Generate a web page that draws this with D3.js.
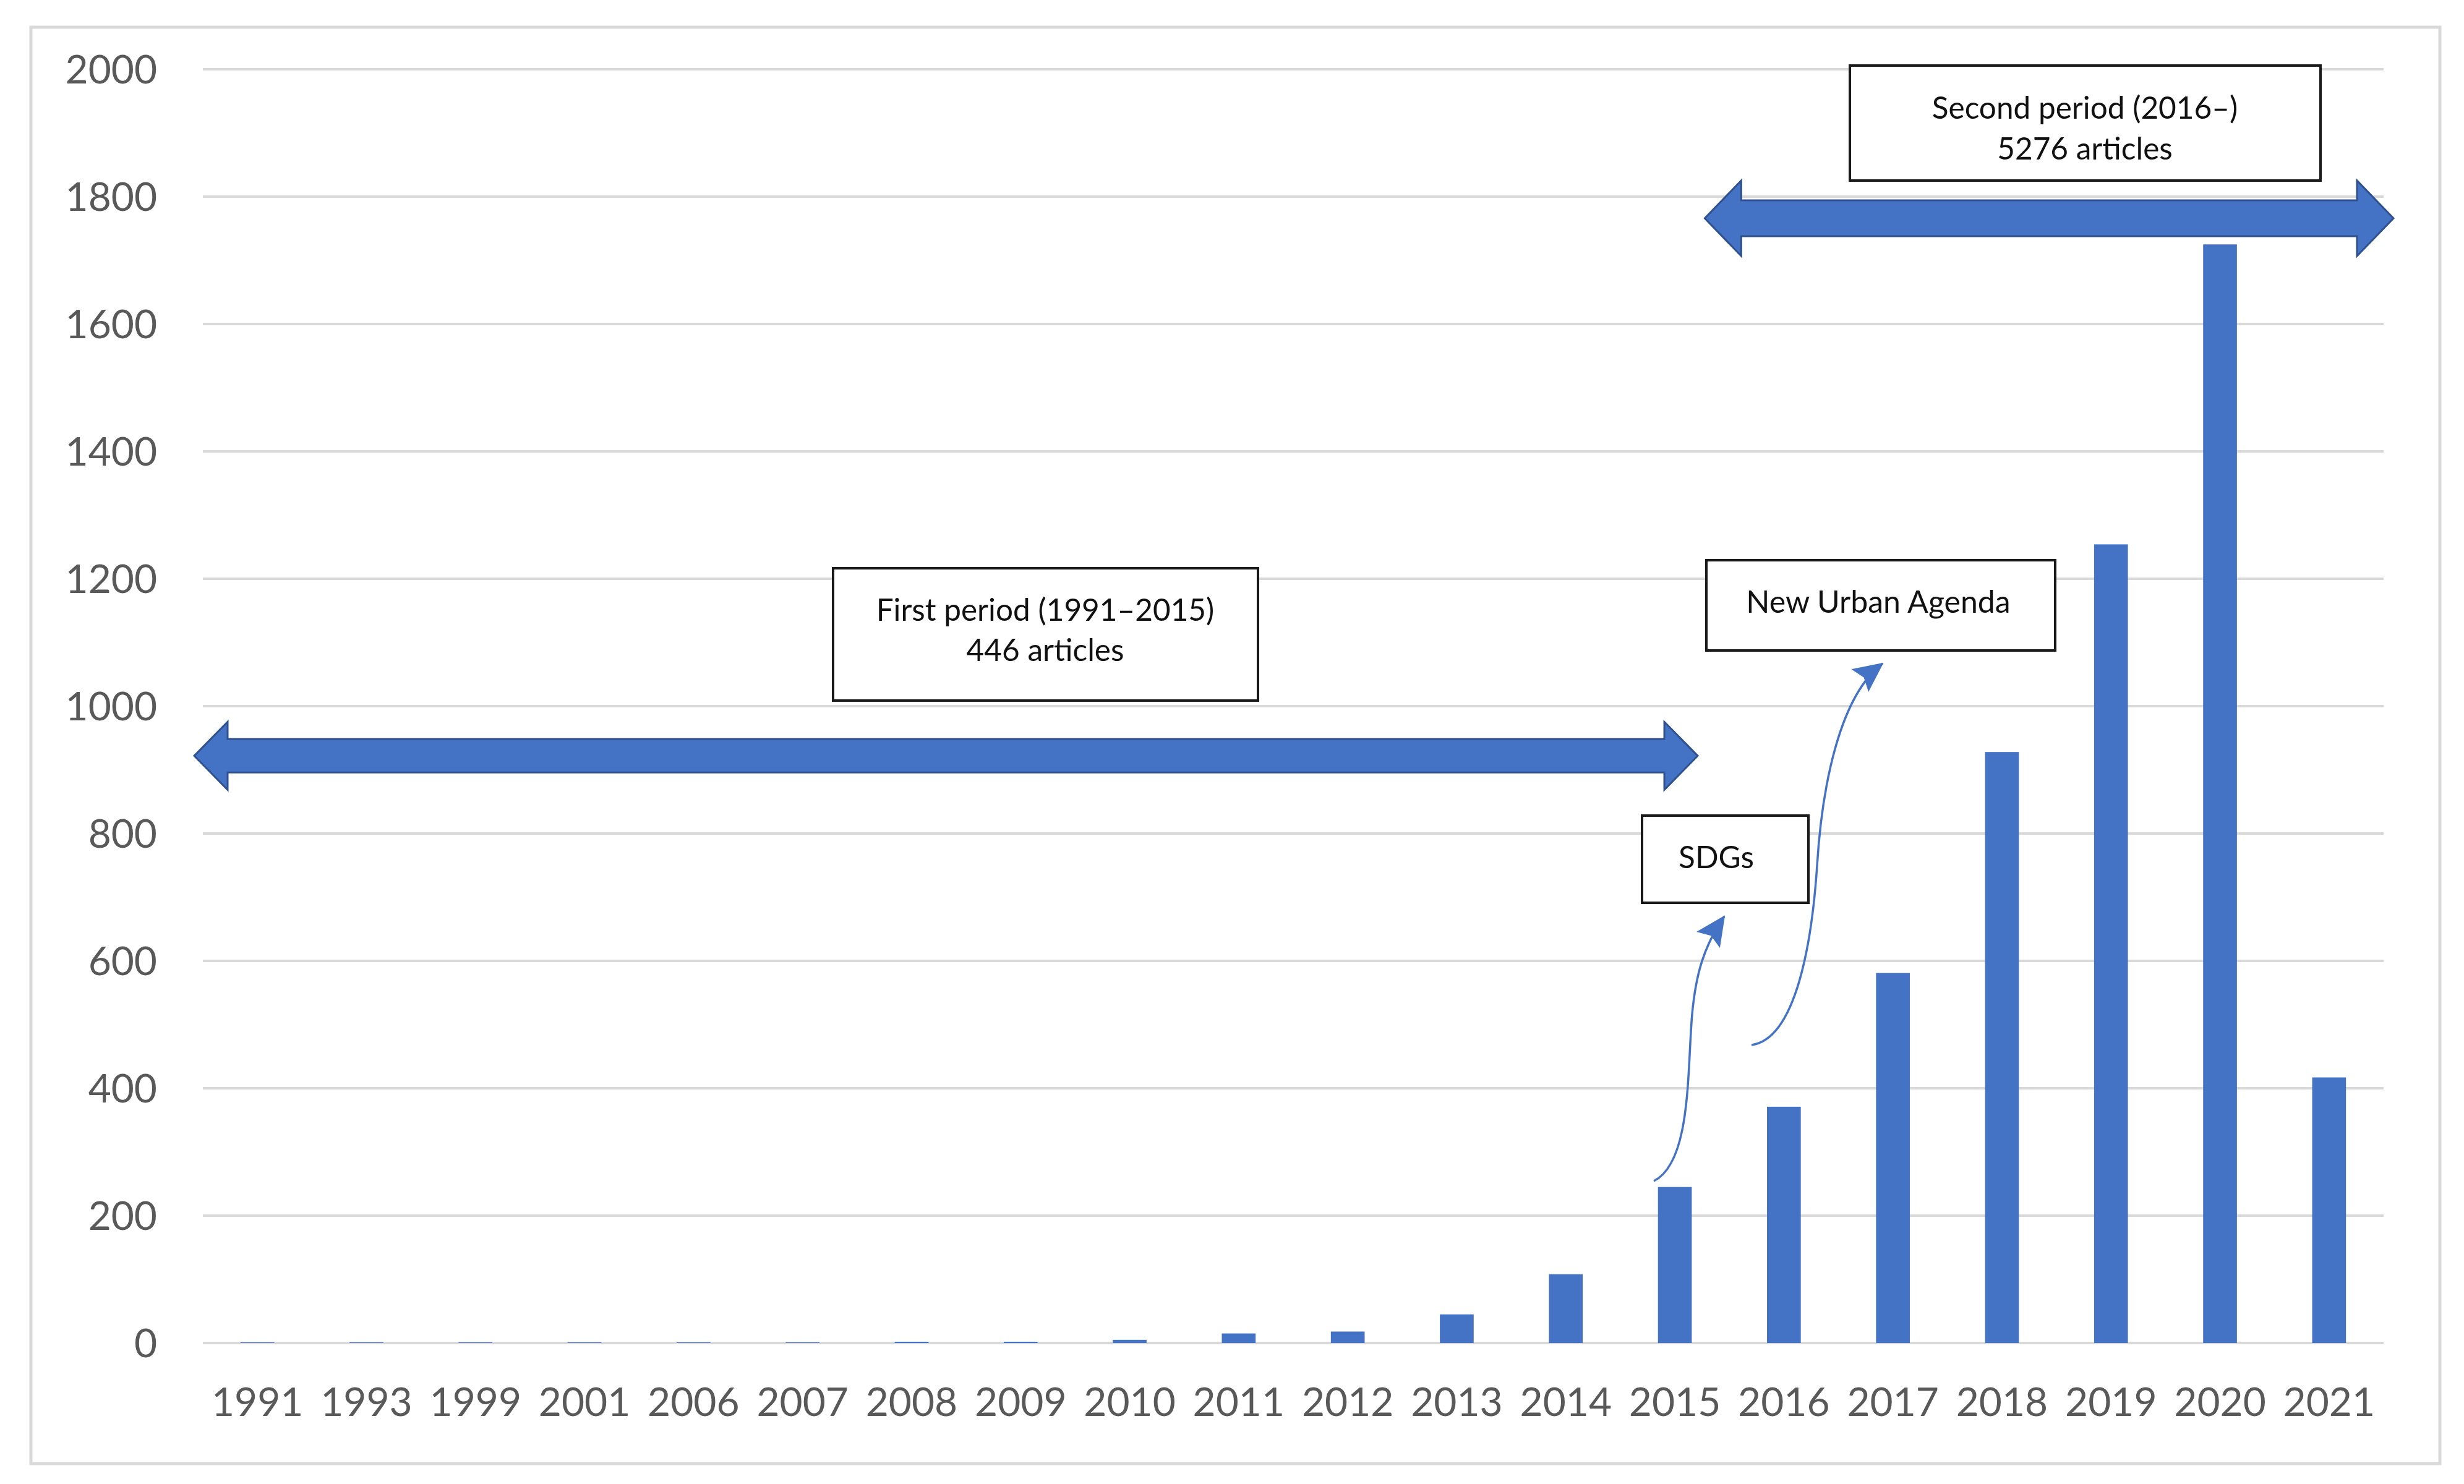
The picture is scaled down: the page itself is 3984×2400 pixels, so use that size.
<!DOCTYPE html>
<html>
<head>
<meta charset="utf-8">
<script src="https://cdn.jsdelivr.net/npm/d3@7"></script>
<style>
  html, body { margin: 0; padding: 0; background: #ffffff; }
  svg { display: block; }
</style>
</head>
<body>
<svg id="chart" width="3984" height="2400"></svg>
<script>
// ---- data ----
const years = ["1991","1993","1999","2001","2006","2007","2008","2009","2010","2011",
               "2012","2013","2014","2015","2016","2017","2018","2019","2020","2021"];
const articles = [1, 1, 1, 1, 1, 1, 2, 2, 5, 15,
                  18, 45, 108, 245, 371, 581, 928, 1254, 1725, 417];
const yTicks = [0, 200, 400, 600, 800, 1000, 1200, 1400, 1600, 1800, 2000];
const firstPeriodLines = ["First period (1991\u20132015)", "446 articles"];
const secondPeriodLines = ["Second period (2016\u2013)", "5276 articles"];
const eventLabels = ["SDGs", "New Urban Agenda"];

// ---- layout ----
const W = 3984, H = 2400;
const plot = { left: 328, right: 3854, top: 112, bottom: 2172 };
const blue = "#4472c4", blueEdge = "#2f528f";
const textGrey = "#595959", gridGrey = "#d9d9d9";
const font = "Lato, 'Open Sans', sans-serif";

const svg = d3.select("#chart");

const x = d3.scaleBand().domain(years).range([plot.left, plot.right])
  .paddingInner(0.69).paddingOuter(0.345);
const y = d3.scaleLinear().domain([0, 2000]).range([plot.bottom, plot.top]);
const cx = d => x(d) + x.bandwidth() / 2;

// outer frame
svg.append("rect").attr("x", 50).attr("y", 44).attr("width", 3895).attr("height", 2323)
  .attr("fill", "#fff").attr("stroke", gridGrey).attr("stroke-width", 5);

// gridlines
svg.append("g").selectAll("line").data(yTicks).join("line")
  .attr("x1", plot.left).attr("x2", plot.right)
  .attr("y1", d => y(d)).attr("y2", d => y(d))
  .attr("stroke", gridGrey).attr("stroke-width", 4);

// y axis (labels only)
const yAxis = d3.axisLeft(y).tickValues(yTicks).tickSize(0).tickPadding(0).tickFormat(d3.format("d"));
const gy = svg.append("g").attr("transform", `translate(${plot.left - 74},0)`).call(yAxis);
gy.select(".domain").remove();
gy.selectAll("text").attr("font-family", font).attr("font-size", 64)
  .attr("fill", textGrey).attr("dy", "0.35em");

// x axis (labels only)
const xAxis = d3.axisBottom(x).tickSize(0).tickPadding(0);
const gx = svg.append("g").attr("transform", `translate(0,${plot.bottom + 96})`).call(xAxis);
gx.select(".domain").remove();
gx.selectAll("text").attr("font-family", font).attr("font-size", 64)
  .attr("fill", textGrey).attr("dy", "0.35em");

// bars
svg.append("g").selectAll("rect").data(years).join("rect")
  .attr("x", d => x(d))
  .attr("width", x.bandwidth())
  .attr("y", (d, i) => y(articles[i]))
  .attr("height", (d, i) => y(0) - y(articles[i]))
  .attr("fill", blue);

// thick double arrows
function doubleArrow(x1, x2, yc, shaftHalf, headHalf, headLen) {
  return [
    [x1, yc], [x1 + headLen, yc - headHalf], [x1 + headLen, yc - shaftHalf],
    [x2 - headLen, yc - shaftHalf], [x2 - headLen, yc - headHalf], [x2, yc],
    [x2 - headLen, yc + headHalf], [x2 - headLen, yc + shaftHalf],
    [x1 + headLen, yc + shaftHalf], [x1 + headLen, yc + headHalf]
  ];
}
const line = d3.line();
const a1x1 = plot.left - 14, a1x2 = cx("2015") + 37;
const a2x1 = cx("2016") - 128, a2x2 = plot.right + 16;
svg.append("path").attr("d", line(doubleArrow(a1x1, a1x2, y(922), 27, 55, 54)) + "Z")
  .attr("fill", blue).attr("stroke", blueEdge).attr("stroke-width", 3).attr("stroke-linejoin", "miter");
svg.append("path").attr("d", line(doubleArrow(a2x1, a2x2, y(1766), 29, 61, 59)) + "Z")
  .attr("fill", blue).attr("stroke", blueEdge).attr("stroke-width", 3).attr("stroke-linejoin", "miter");

// boxes with text
function box(x0, y0, x1, y1, lines, lineYs, tx, fs) {
  svg.append("rect").attr("x", x0).attr("y", y0).attr("width", x1 - x0).attr("height", y1 - y0)
    .attr("fill", "#fff").attr("stroke", "#1a1a1a").attr("stroke-width", 4);
  lines.forEach((t, i) => {
    svg.append("text").attr("x", tx).attr("y", lineYs[i]).attr("dy", "0.35em")
      .attr("text-anchor", "middle").attr("font-family", font).attr("font-size", fs)
      .attr("fill", "#111").text(t);
  });
}
box(1347, 919, 2034, 1133, firstPeriodLines, [987, 1052], 1690, 49.5);
box(2991, 106, 3752, 292, secondPeriodLines, [175, 241], 3371, 49.5);
box(2759, 906, 3323, 1052, [eventLabels[1]], [973], 3037, 50);
box(2655, 1319, 2924, 1460, [eventLabels[0]], [1387], 2775, 49.5);

// thin curved arrows
const defs = svg.append("defs");
defs.append("marker").attr("id", "head").attr("markerUnits", "userSpaceOnUse")
  .attr("viewBox", "-50 -26 52 52").attr("refX", 0).attr("refY", 0)
  .attr("markerWidth", 52).attr("markerHeight", 52).attr("orient", "auto")
  .append("path").attr("d", "M2,0 L-46,-23 L-38,0 L-46,23 Z").attr("fill", blue);

svg.append("path")
  .attr("d", "M2674,1910 C2735,1880 2728,1730 2736,1640 C2742,1575 2755,1530 2788,1482")
  .attr("fill", "none").attr("stroke", blue).attr("stroke-width", 3.5)
  .attr("marker-end", "url(#head)");
svg.append("path")
  .attr("d", "M2832,1690 C2905,1680 2930,1520 2938,1400 C2946,1270 2975,1125 3044,1073")
  .attr("fill", "none").attr("stroke", blue).attr("stroke-width", 3.5)
  .attr("marker-end", "url(#head)");
</script>
</body>
</html>
